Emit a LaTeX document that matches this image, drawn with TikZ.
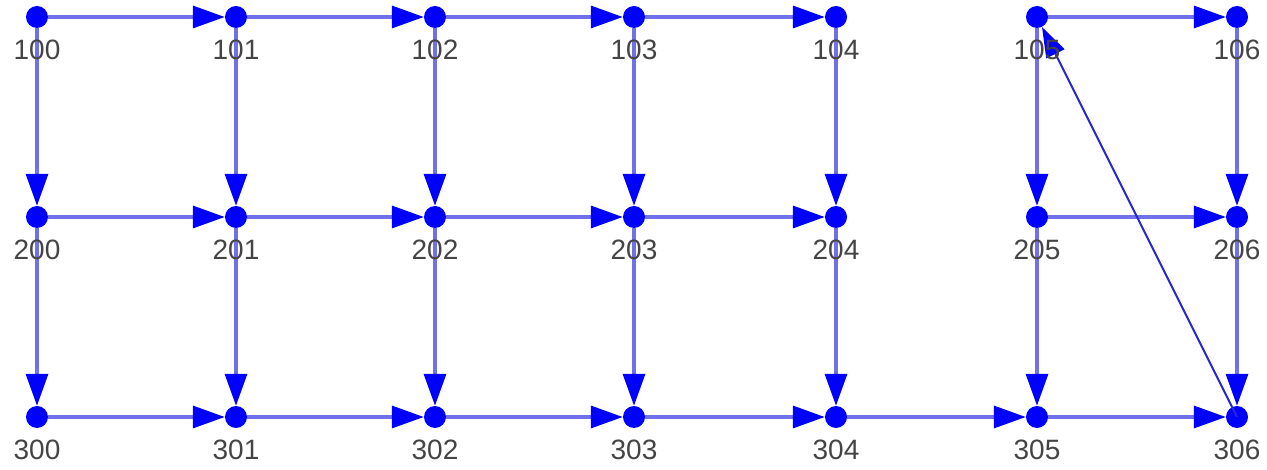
\documentclass[tikz,border=0pt]{standalone}
\usepackage{fontspec}
\setmainfont{Liberation Sans}
\usetikzlibrary{arrows.meta}
\definecolor{edgeblue}{RGB}{112,112,232}
\definecolor{backblue}{RGB}{40,40,210}
\definecolor{labelgrey}{RGB}{68,68,68}
\begin{document}
\begin{tikzpicture}[x=1pt,y=-1pt,
  vertex/.style={circle,fill=blue,inner sep=0pt,minimum size=22pt},
  vlabel/.style={text=labelgrey,font=\fontsize{28}{28}\selectfont,inner sep=0pt},
  edge/.style={draw=edgeblue,line width=3.3pt,-{Triangle[length=32pt,width=22pt,color=blue]}},
  backedge/.style={draw=backblue,line width=2pt,-{Triangle[length=30pt,width=20pt,color=blue]}}]
\useasboundingbox (0,0) rectangle (1267,470);
% grid of vertices
\foreach \r/\y in {1/17,2/217,3/417}{
  \foreach \c/\x in {0/37,1/236,2/435,3/634,4/836,5/1037,6/1237}{
    \node[vertex] (n\r0\c) at (\x,\y) {};
  }
}
% horizontal edges
\foreach \r in {1,2}{
  \foreach \a/\b in {0/1,1/2,2/3,3/4,5/6}{
    \draw[edge] (n\r0\a) -- (n\r0\b);
  }
}
\foreach \a/\b in {0/1,1/2,2/3,3/4,4/5,5/6}{
  \draw[edge] (n30\a) -- (n30\b);
}
% vertical edges
\foreach \c in {0,...,6}{
  \draw[edge] (n10\c) -- (n20\c);
  \draw[edge] (n20\c) -- (n30\c);
}
% back edge
\draw[backedge] (n306.center) -- (n105);
% labels
\foreach \r/\y in {1/17,2/217,3/417}{
  \foreach \c/\x in {0/37,1/236,2/435,3/634,4/836,5/1037,6/1237}{
    \node[vlabel] (l\r0\c) at (\x,\y+33) {\r0\c};
  }
}
\end{tikzpicture}
\end{document}
